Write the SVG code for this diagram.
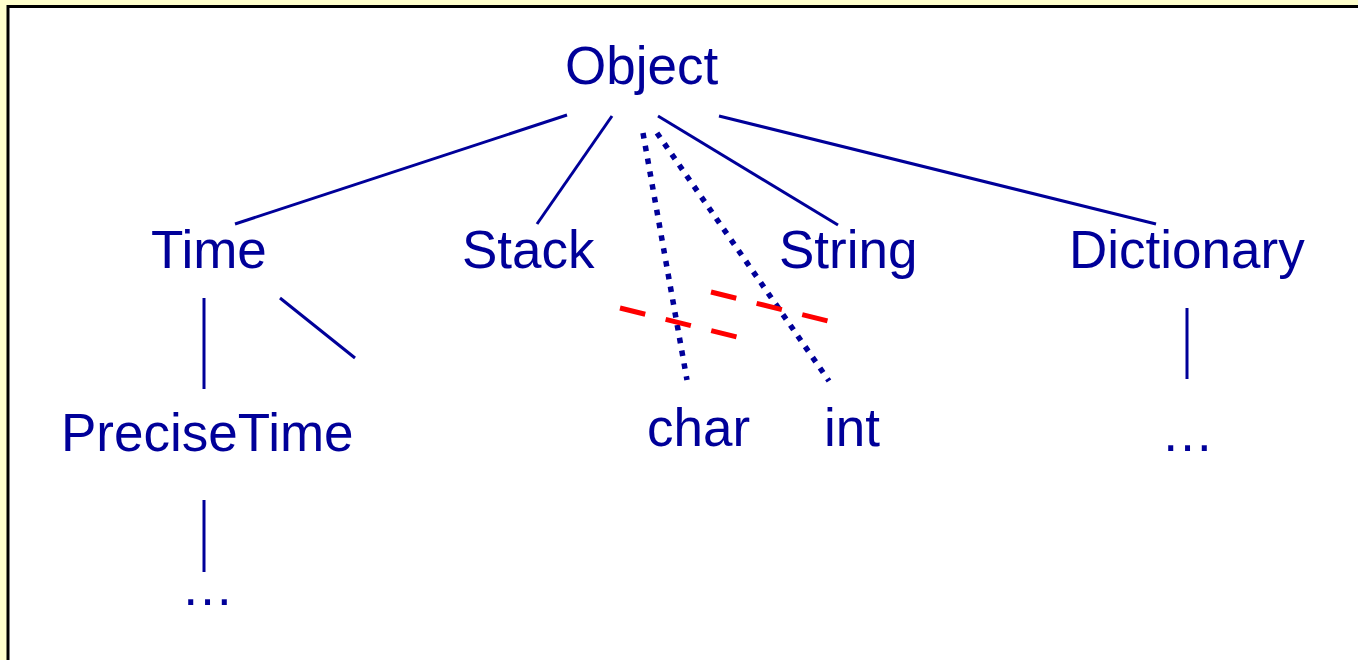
<svg xmlns="http://www.w3.org/2000/svg" width="1358" height="660" viewBox="0 0 1358 660">
  <style>
    .label { font-family: "Liberation Sans", Arial, sans-serif; font-size: 53px; fill: #000099; }
    .edge { stroke: #000099; stroke-width: 3; fill: none; }
    .dotted { stroke: #000099; stroke-width: 5.5; stroke-dasharray: 5.5 7.5; fill: none; }
    .cut { stroke: #ff0000; stroke-width: 5; stroke-dasharray: 26 21; fill: none; }
  </style>
  <!-- page background and frame -->
  <rect x="0" y="0" width="1358" height="660" fill="#ffffcc"/>
  <rect x="8" y="6.5" width="1370" height="680" fill="#ffffff" stroke="#000000" stroke-width="3"/>

  <g id="connectors">
    <line class="edge" x1="567" y1="115" x2="235" y2="224"/>
    <line class="edge" x1="612" y1="116" x2="537" y2="224"/>
    <line class="edge" x1="658" y1="116" x2="838" y2="225"/>
    <line class="edge" x1="719" y1="116" x2="1156" y2="224"/>
    <line class="edge" x1="204" y1="298" x2="204" y2="389"/>
    <line class="edge" x1="280" y1="298" x2="355" y2="358"/>
    <line class="edge" x1="204" y1="500" x2="204" y2="572"/>
    <line class="edge" x1="1187" y1="308" x2="1187" y2="379"/>
    <line class="dotted" x1="643" y1="133" x2="687" y2="380"/>
    <line class="dotted" x1="657" y1="133" x2="829" y2="381"/>
    <line class="cut" x1="620" y1="308" x2="737" y2="337"/>
    <line class="cut" x1="711" y1="292" x2="828" y2="321"/>
  </g>

  <g id="node-object"><text class="label" x="565" y="84">Object</text></g>
  <g id="node-time"><text class="label" x="151" y="268">Time</text></g>
  <g id="node-stack"><text class="label" x="462" y="268">Stack</text></g>
  <g id="node-string"><text class="label" x="779" y="268">String</text></g>
  <g id="node-dictionary"><text class="label" x="1069" y="268">Dictionary</text></g>
  <g id="node-precisetime"><text class="label" x="61" y="451">PreciseTime</text></g>
  <g id="node-char"><text class="label" x="647" y="446">char</text></g>
  <g id="node-int"><text class="label" x="824" y="446">int</text></g>
  <g id="node-dict-more"><text class="label" x="1161" y="451">…</text></g>
  <g id="node-precise-more"><text class="label" x="181" y="605">…</text></g>
</svg>
